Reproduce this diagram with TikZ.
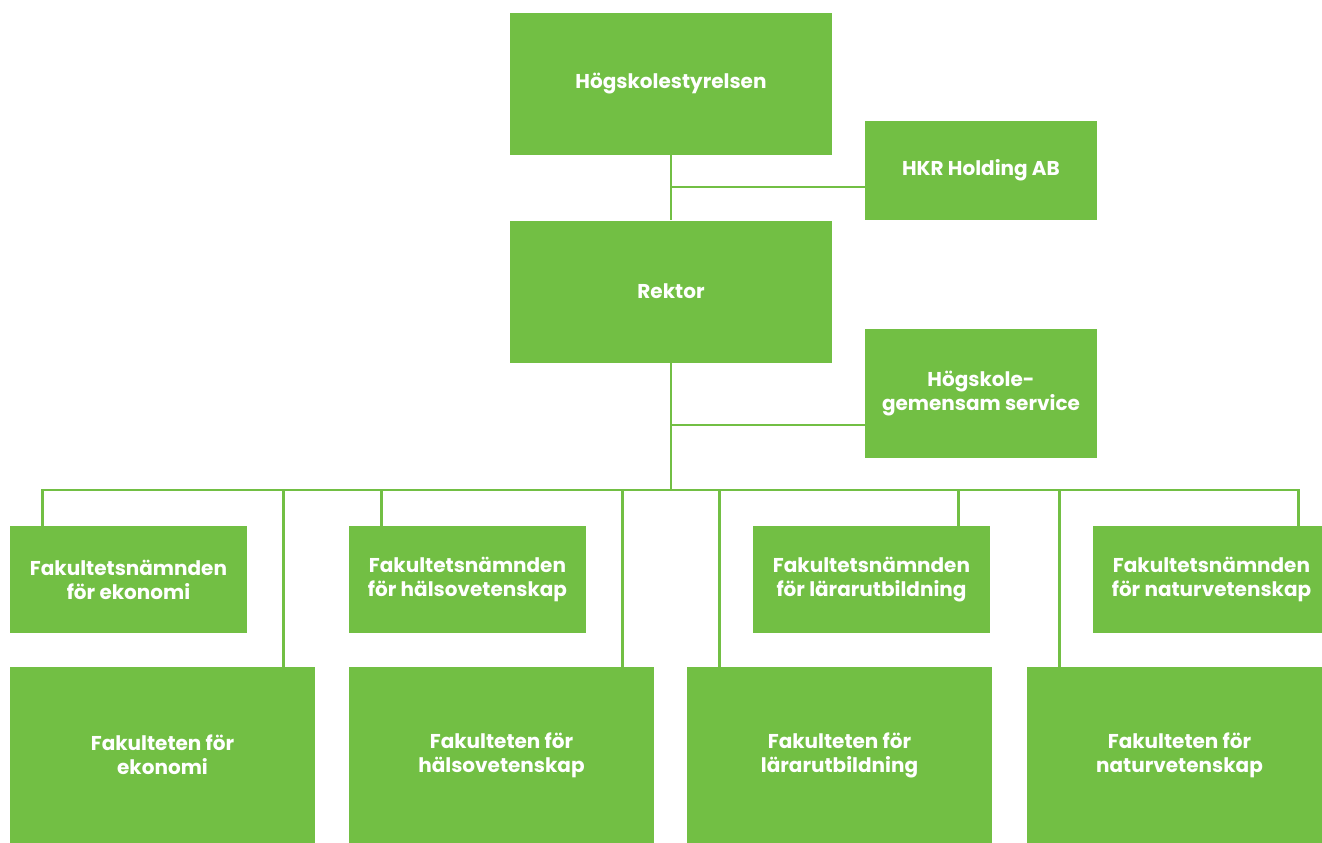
\documentclass[tikz,border=0pt]{standalone}
\usepackage{fontspec}
\setmainfont{Poppins}
\usepackage{tikz}

\definecolor{hkrgreen}{RGB}{114,191,68}

\tikzset{
  box/.style={fill=hkrgreen, text=white, inner sep=0pt, align=center,
    font=\fontsize{15}{18}\selectfont\bfseries},
  bigbox/.style={box, minimum width=241.5pt, minimum height=106.5pt},
  sidebox/.style={box, minimum width=174pt},
  boardbox/.style={box, minimum width=177.75pt, minimum height=80.25pt},
  facbox/.style={box, minimum width=228.75pt, minimum height=132pt},
  link/.style={draw=hkrgreen, line width=2.2pt}
}

\begin{document}
\begin{tikzpicture}[x=0.75pt, y=-0.75pt]
\clip (0,0) rectangle (1322,843);

\node[bigbox] (styrelse) at (671,84) {Högskolestyrelsen};
\node[bigbox] (rektor) at (671,291.5) {Rektor};
\node[sidebox, minimum height=74.25pt] (holding) at (981,170.5) {HKR Holding AB};
\node[sidebox, minimum height=96.75pt] (service) at (981,393.5) {Högskole-\\gemensam service};

\node[boardbox] (nekonomi) at (128.5,579.5) {Fakultetsnämnden\\för ekonomi};
\node[boardbox] (nhalsa) at (467.5,579.5) {Fakultetsnämnden\\för hälsovetenskap};
\node[boardbox] (nlarare) at (871.5,579.5) {Fakultetsnämnden\\för lärarutbildning};
\node[boardbox] (nnatur) at (1211.5,579.5) {Fakultetsnämnden\\för naturvetenskap};

\node[facbox] (fekonomi) at (162.5,755) {Fakulteten för\\ekonomi};
\node[facbox] (fhalsa) at (501.5,755) {Fakulteten för\\hälsovetenskap};
\node[facbox] (flarare) at (839.5,755) {Fakulteten för\\lärarutbildning};
\node[facbox] (fnatur) at (1179.5,755) {Fakulteten för\\naturvetenskap};

\coordinate (hkrjoin) at (671,187);
\coordinate (servjoin) at (671,425);
\coordinate (bus) at (671,490);

% trunk
\draw[link] (styrelse.south) -- (rektor.north);
\draw[link] (rektor.south) -- (bus);
\draw[link] (hkrjoin) -- (hkrjoin -| holding.west);
\draw[link] (servjoin) -- (servjoin -| service.west);

% drops to the faculties
\draw[link] (nekonomi.north west) ++(33,0) |- (bus);
\draw[link] (fekonomi.north east) ++(-32,0) |- (bus);
\draw[link] (nhalsa.north west) ++(33,0) |- (bus);
\draw[link] (fhalsa.north east) ++(-32,0) |- (bus);
\draw[link] (flarare.north west) ++(33,0) |- (bus);
\draw[link] (nlarare.north east) ++(-32,0) |- (bus);
\draw[link] (fnatur.north west) ++(33,0) |- (bus);
\draw[link] (nnatur.north east) ++(-32,0) |- (bus);
\end{tikzpicture}
\end{document}
